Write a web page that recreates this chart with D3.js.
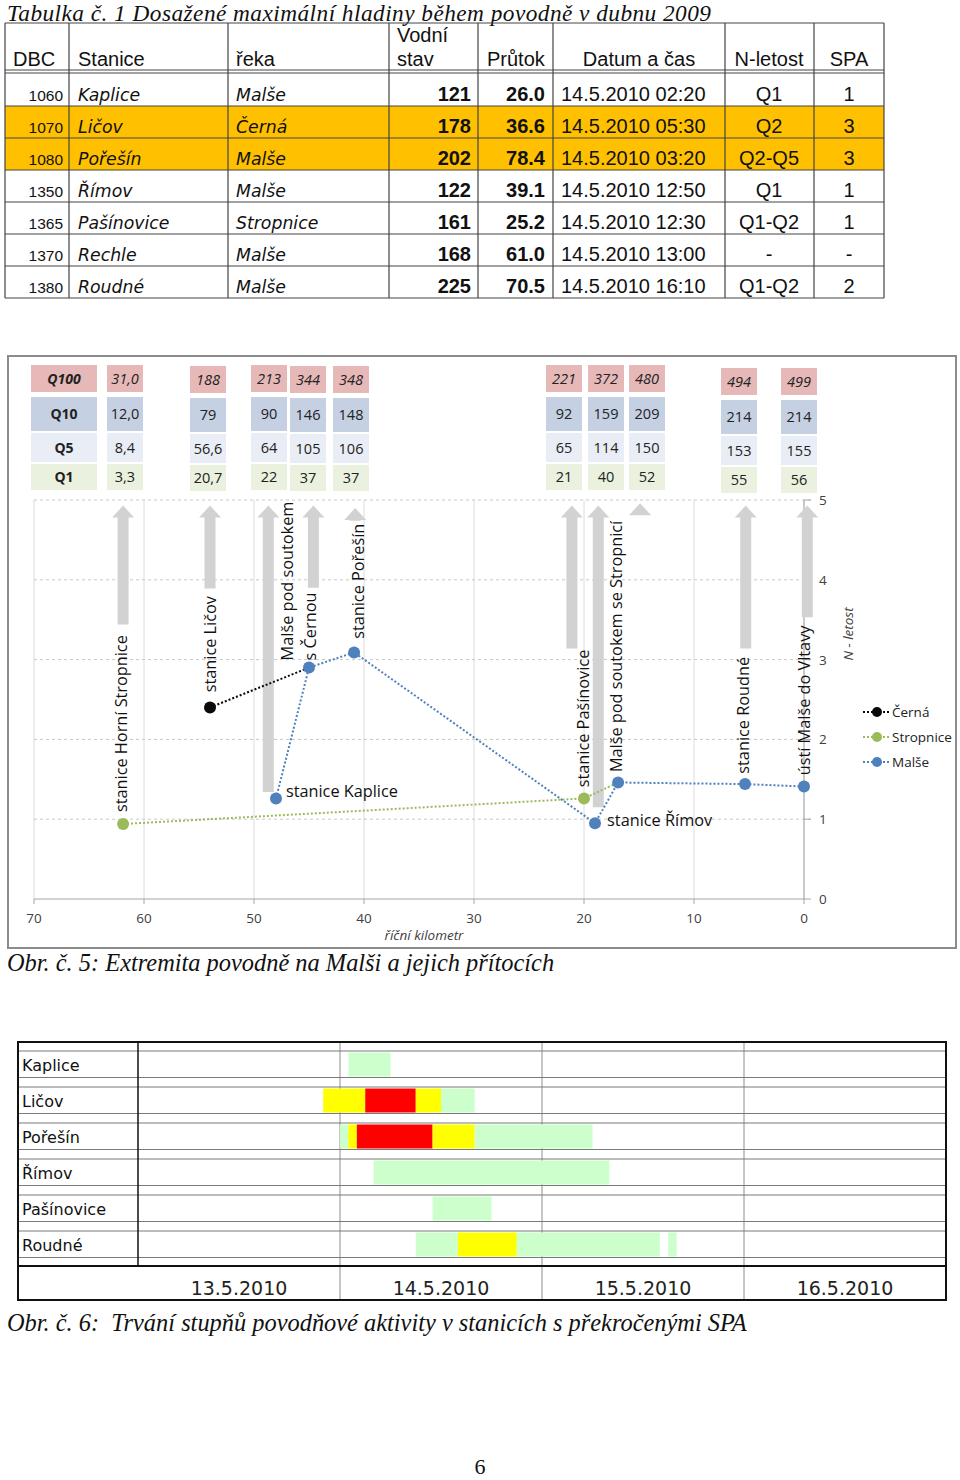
<!DOCTYPE html>
<html><head><meta charset="utf-8">
<script src="https://cdn.jsdelivr.net/npm/d3@7"></script>
<style>body{margin:0;background:#fff}</style>
</head><body>
<svg id="page" width="960" height="1480"></svg>
<script>
// ---------- DATA ----------
const tableTitle = "Tabulka č. 1 Dosažené maximální hladiny během povodně v dubnu 2009";
const dbc = [1060, 1070, 1080, 1350, 1365, 1370, 1380];
const stanice = ["Kaplice", "Ličov", "Pořešín", "Římov", "Pašínovice", "Rechle", "Roudné"];
const reka = ["Malše", "Černá", "Malše", "Malše", "Stropnice", "Malše", "Malše"];
const vodniStav = [121, 178, 202, 122, 161, 168, 225];
const prutok = [26.0, 36.6, 78.4, 39.1, 25.2, 61.0, 70.5];
const datum = ["14.5.2010 02:20", "14.5.2010 05:30", "14.5.2010 03:20", "14.5.2010 12:50", "14.5.2010 12:30", "14.5.2010 13:00", "14.5.2010 16:10"];
const nLetost = ["Q1", "Q2", "Q2-Q5", "Q1", "Q1-Q2", "-", "Q1-Q2"];
const spa = ["1", "3", "3", "1", "1", "-", "2"];

const qLabels = ["Q100", "Q10", "Q5", "Q1"];
const q100 = ["31,0", "188", "213", "344", "348", "221", "372", "480", "494", "499"];
const q10 = ["12,0", "79", "90", "146", "148", "92", "159", "209", "214", "214"];
const q5 = ["8,4", "56,6", "64", "105", "106", "65", "114", "150", "153", "155"];
const q1 = ["3,3", "20,7", "22", "37", "37", "21", "40", "52", "55", "56"];

// river km and N-letost range arrows (bottom / top of range)
const arrowKm = [61.9, 54.0, 48.7, 44.6, 40.8, 21.1, 18.7, 14.9, 5.3, -0.3];
const arrowLow = [3.44, 3.89, 1.34, 3.9, 4.74, 3.14, 1.15, 4.81, 3.14, 3.53];
const arrowHigh = [4.93, 4.93, 4.93, 4.93, 4.9, 4.93, 4.93, 4.96, 4.93, 4.93];

const malseKm = [48.0, 45.0, 40.9, 19.0, 16.9, 5.36, 0];
const malseN = [1.26, 2.9, 3.09, 0.95, 1.46, 1.44, 1.41];
const cernaKm = [54.0, 45.0];
const cernaN = [2.4, 2.9];
const stropniceKm = [61.9, 20.0, 16.9];
const stropniceN = [0.94, 1.26, 1.46];

const vLabelText = ["stanice Horní Stropnice", "stanice Ličov", "Malše pod soutokem", "s Černou", "stanice Pořešín", "stanice Pašínovice", "Malše pod soutokem se Stropnicí", "stanice Roudné", "ústí Malše do Vltavy"];
const vLabelKm = [62.0, 53.9, 46.9, 44.8, 40.5, 20.0, 17.0, 5.45, -0.09];
const vLabelN = [1.09, 2.59, 2.99, 2.99, 3.26, 1.40, 1.59, 1.57, 1.55];
const hLabelText = ["stanice Kaplice", "stanice Římov"];
const hLabelKm = [47.1, 17.9];
const hLabelN = [1.275, 0.91];

const kmTicks = [70, 60, 50, 40, 30, 20, 10, 0];
const nTicks = [0, 1, 2, 3, 4, 5];
const seriesNames = ["Černá", "Stropnice", "Malše"];
const seriesColors = ["#0a0a0a", "#9bbb59", "#4f81bd"];

const caption5 = "Obr. č. 5: Extremita povodně na Malši a jejich přítocích";

const ganttStations = ["Kaplice", "Ličov", "Pořešín", "Římov", "Pašínovice", "Roudné"];
const segStation = ["Kaplice", "Ličov", "Ličov", "Ličov", "Ličov", "Pořešín", "Pořešín", "Pořešín", "Pořešín", "Pořešín", "Římov", "Pašínovice", "Roudné", "Roudné", "Roudné", "Roudné"];
const segStart = ["2010-05-14T01:00", "2010-05-13T22:00", "2010-05-14T03:00", "2010-05-14T09:00", "2010-05-14T12:00", "2010-05-14T00:00", "2010-05-14T01:00", "2010-05-14T02:00", "2010-05-14T11:00", "2010-05-14T16:00", "2010-05-14T04:00", "2010-05-14T11:00", "2010-05-14T09:00", "2010-05-14T14:00", "2010-05-14T21:00", "2010-05-15T15:00"];
const segEnd = ["2010-05-14T06:00", "2010-05-14T03:00", "2010-05-14T09:00", "2010-05-14T12:00", "2010-05-14T16:00", "2010-05-14T01:00", "2010-05-14T02:00", "2010-05-14T11:00", "2010-05-14T16:00", "2010-05-15T06:00", "2010-05-15T08:00", "2010-05-14T18:00", "2010-05-14T14:00", "2010-05-14T21:00", "2010-05-15T14:00", "2010-05-15T16:00"];
const segLevel = [1, 2, 3, 2, 1, 1, 2, 3, 2, 1, 1, 1, 1, 2, 1, 1];
const ganttDays = ["13.5.2010", "14.5.2010", "15.5.2010", "16.5.2010"];
const caption6 = "Obr. č. 6:  Trvání stupňů povodňové aktivity v stanicích s překročenými SPA";
const pageNumber = "6";

// ---------- DRAW ----------
const svg = d3.select("#page");
svg.append("rect").attr("width", 960).attr("height", 1480).attr("fill", "#fff");
const SERIF = "Liberation Serif", SANS = "Liberation Sans", VERD = "DejaVu Sans", CAL = "Open Sans";
const CAP = 24.4;

// title
svg.append("text").attr("x", 7).attr("y", 21).attr("font-family", SERIF).attr("font-style", "italic")
  .attr("font-size", 23.3).attr("textLength", 704).attr("lengthAdjust", "spacing")
  .attr("fill", "#111").text(tableTitle);

// ---- table ----
const colX = [5, 69, 228, 389, 478, 553, 725, 814, 884];
const rows = d3.range(stanice.length);
const rowY = d3.scaleBand().domain(rows).range([74, 298]);
const tbl = svg.append("g");
tbl.selectAll("rect.hl").data(rows.filter(i => spa[i] === "3")).join("rect")
  .attr("x", colX[0]).attr("y", i => rowY(i)).attr("width", colX[8] - colX[0]).attr("height", rowY.bandwidth())
  .attr("fill", "#FFC000");
const hLines = [23, 70, 73].concat(rows.map(i => rowY(i) + rowY.bandwidth()));
tbl.selectAll("line.h").data(hLines).join("line")
  .attr("x1", colX[0]).attr("x2", colX[8]).attr("y1", d => d).attr("y2", d => d)
  .attr("stroke", "#444").attr("stroke-width", 1);
tbl.selectAll("line.v").data(colX).join("line")
  .attr("x1", d => d).attr("x2", d => d).attr("y1", 23).attr("y2", 298)
  .attr("stroke", "#444").attr("stroke-width", 1.2);
const hdr = [
  {t: "DBC", x: 13, a: "start"}, {t: "Stanice", x: 78, a: "start"}, {t: "řeka", x: 236, a: "start"},
  {t: "stav", x: 397, a: "start"}, {t: "Průtok", x: 487, a: "start"}, {t: "Datum a čas", x: 639, a: "middle"},
  {t: "N-letost", x: 769, a: "middle"}, {t: "SPA", x: 849, a: "middle"}];
tbl.selectAll("text.hd").data(hdr).join("text")
  .attr("x", d => d.x).attr("y", 66).attr("text-anchor", d => d.a)
  .attr("font-family", SANS).attr("font-size", 20).attr("fill", "#111").text(d => d.t);
tbl.append("text").attr("x", 397).attr("y", 42).attr("font-family", SANS).attr("font-size", 20).attr("fill", "#111").text("Vodní");
const rowG = tbl.selectAll("g.row").data(rows).join("g").attr("transform", i => `translate(0,${rowY(i) + 27})`);
rowG.append("text").attr("x", 63).attr("text-anchor", "end").attr("font-family", SANS).attr("font-size", 15.5).attr("fill", "#111").text(i => dbc[i]);
rowG.append("text").attr("x", 78).attr("font-family", VERD).attr("font-style", "italic").attr("font-size", 17.3).attr("fill", "#111").text(i => stanice[i]);
rowG.append("text").attr("x", 236).attr("font-family", VERD).attr("font-style", "italic").attr("font-size", 17.3).attr("fill", "#111").text(i => reka[i]);
rowG.append("text").attr("x", 471).attr("text-anchor", "end").attr("font-family", SANS).attr("font-weight", "bold").attr("font-size", 20).attr("fill", "#111").text(i => vodniStav[i]);
rowG.append("text").attr("x", 545).attr("text-anchor", "end").attr("font-family", SANS).attr("font-weight", "bold").attr("font-size", 20).attr("fill", "#111").text(i => prutok[i].toFixed(1));
rowG.append("text").attr("x", 561).attr("font-family", SANS).attr("font-size", 20).attr("fill", "#111").text(i => datum[i]);
rowG.append("text").attr("x", 769).attr("text-anchor", "middle").attr("font-family", SANS).attr("font-size", 20).attr("fill", "#111").text(i => nLetost[i]);
rowG.append("text").attr("x", 849).attr("text-anchor", "middle").attr("font-family", SANS).attr("font-size", 20).attr("fill", "#111").text(i => spa[i]);

// ---- chart Obr. 5 ----
const c5 = svg.append("g");
c5.append("rect").attr("x", 8).attr("y", 356).attr("width", 948).attr("height", 592)
  .attr("fill", "#fff").attr("stroke", "#8c8c8c").attr("stroke-width", 2);

const x = d3.scaleLinear().domain([70, 0]).range([34, 804]);
const y = d3.scaleLinear().domain([0, 5]).range([899, 500]);

const qRows = [q100, q10, q5, q1];
const qFill = ["#e6b9b8", "#c6d0e3", "#e9edf5", "#ebf1df"];
const qRowTop = [365, 397, 433, 464];
const qRowH = [27, 34, 29, 26];
const boxLeft = [107, 190, 251, 290, 333, 546, 588, 629, 721, 781];
const boxDy = [0, 1, 0, 1, 1, 0, 0, 0, 3, 3];
const qg = c5.append("g");
qLabels.forEach((lab, r) => {
  qg.append("rect").attr("x", 31).attr("y", qRowTop[r]).attr("width", 66).attr("height", qRowH[r]).attr("fill", qFill[r]);
  qg.append("text").attr("x", 64).attr("y", qRowTop[r] + qRowH[r] / 2 + 5).attr("text-anchor", "middle")
    .attr("font-family", CAL).attr("font-weight", "bold").attr("font-style", r === 0 ? "italic" : "normal")
    .attr("font-size", 14).attr("fill", "#222").text(lab);
  qg.selectAll(null).data(qRows[r]).join("rect")
    .attr("x", (d, i) => boxLeft[i]).attr("y", (d, i) => qRowTop[r] + boxDy[i]).attr("width", 36).attr("height", qRowH[r])
    .attr("fill", qFill[r]);
  qg.selectAll(null).data(qRows[r]).join("text")
    .attr("x", (d, i) => boxLeft[i] + 18).attr("y", (d, i) => qRowTop[r] + boxDy[i] + qRowH[r] / 2 + 5)
    .attr("text-anchor", "middle").attr("font-family", CAL).attr("font-size", 14.5)
    .attr("font-style", r === 0 ? "italic" : "normal").attr("fill", "#222").text(d => d);
});

c5.selectAll("line.vg").data(kmTicks.filter(k => k > 0)).join("line")
  .attr("x1", d => x(d)).attr("x2", d => x(d)).attr("y1", y(5)).attr("y2", y(0))
  .attr("stroke", "#dcdcdc").attr("stroke-width", 1);
c5.selectAll("line.hg").data(nTicks.filter(n => n > 0)).join("line")
  .attr("x1", x(70)).attr("x2", x(0) + 8).attr("y1", d => y(d)).attr("y2", d => y(d))
  .attr("stroke", "#c8c8c8").attr("stroke-width", 1).attr("stroke-dasharray", "3,3");
c5.append("line").attr("x1", x(70)).attr("x2", x(0)).attr("y1", y(0)).attr("y2", y(0)).attr("stroke", "#a6a6a6").attr("stroke-width", 1.2);
c5.append("line").attr("x1", x(0)).attr("x2", x(0)).attr("y1", y(5)).attr("y2", y(0)).attr("stroke", "#a6a6a6").attr("stroke-width", 1.2);
c5.selectAll("line.xt").data(kmTicks).join("line")
  .attr("x1", d => x(d)).attr("x2", d => x(d)).attr("y1", y(0)).attr("y2", y(0) + 5).attr("stroke", "#a6a6a6");
c5.selectAll("line.yt").data(nTicks).join("line")
  .attr("x1", x(0)).attr("x2", x(0) + 7).attr("y1", d => y(d)).attr("y2", d => y(d)).attr("stroke", "#a6a6a6");
c5.selectAll("text.xl").data(kmTicks).join("text")
  .attr("x", d => x(d)).attr("y", 923).attr("text-anchor", "middle")
  .attr("font-family", CAL).attr("font-size", 13.5).attr("fill", "#404040").text(d => d);
c5.selectAll("text.yl").data(nTicks).join("text")
  .attr("x", 819).attr("y", d => y(d) + 5)
  .attr("font-family", CAL).attr("font-size", 13.5).attr("fill", "#404040").text(d => d);
c5.append("text").attr("x", 424).attr("y", 940).attr("text-anchor", "middle")
  .attr("font-family", CAL).attr("font-style", "italic").attr("font-size", 13.5).attr("fill", "#404040").text("říční kilometr");
c5.append("text").attr("transform", "translate(853,634) rotate(-90)").attr("text-anchor", "middle")
  .attr("font-family", CAL).attr("font-style", "italic").attr("font-size", 13.5).attr("fill", "#404040").text("N - letost");

c5.selectAll("path.arrow").data(arrowKm).join("path")
  .attr("d", (k, i) => {
    const cx = x(k), yt = y(arrowHigh[i]), yb = y(arrowLow[i]);
    const hh = Math.min(12, yb - yt), hw = 11, sw = 5.5;
    return `M${cx},${yt}L${cx + hw},${yt + hh}L${cx + sw},${yt + hh}L${cx + sw},${yb}L${cx - sw},${yb}L${cx - sw},${yt + hh}L${cx - hw},${yt + hh}Z`;
  })
  .attr("fill", "#d2d2d2");

const line = d3.line().x(d => x(d[0])).y(d => y(d[1]));
const series = [
  {km: cernaKm, n: cernaN, c: seriesColors[0]},
  {km: stropniceKm, n: stropniceN, c: seriesColors[1]},
  {km: malseKm, n: malseN, c: seriesColors[2]}];
series.forEach(s => {
  const pts = s.km.map((k, i) => [k, s.n[i]]);
  c5.append("path").attr("d", line(pts)).attr("fill", "none").attr("stroke", s.c)
    .attr("stroke-width", 2).attr("stroke-dasharray", "2,2");
});
const pointSets = [
  {km: cernaKm.slice(0, 1), n: cernaN.slice(0, 1), c: seriesColors[0]},
  {km: stropniceKm.slice(0, 2), n: stropniceN.slice(0, 2), c: seriesColors[1]},
  {km: malseKm, n: malseN, c: seriesColors[2]}];
pointSets.forEach(s => {
  c5.selectAll(null).data(s.km).join("circle")
    .attr("cx", d => x(d)).attr("cy", (d, i) => y(s.n[i])).attr("r", 6).attr("fill", s.c);
});

c5.selectAll("text.vlab").data(vLabelText).join("text")
  .attr("transform", (d, i) => `translate(${x(vLabelKm[i]) + 5},${y(vLabelN[i])}) rotate(-90)`)
  .attr("font-family", CAL).attr("font-size", 16.3).attr("fill", "#111").text(d => d);
c5.selectAll("text.hlab").data(hLabelText).join("text")
  .attr("x", (d, i) => x(hLabelKm[i])).attr("y", (d, i) => y(hLabelN[i]))
  .attr("font-family", CAL).attr("font-size", 16.3).attr("fill", "#111").text(d => d);

const lg = c5.selectAll("g.leg").data(seriesNames).join("g")
  .attr("transform", (d, i) => `translate(0,${712 + i * 25})`);
lg.append("line").attr("x1", 863).attr("x2", 890).attr("stroke", (d, i) => seriesColors[i])
  .attr("stroke-width", 2).attr("stroke-dasharray", "2,2");
lg.append("circle").attr("cx", 877).attr("r", 5).attr("fill", (d, i) => seriesColors[i]);
lg.append("text").attr("x", 892).attr("y", 5).attr("font-family", CAL).attr("font-size", 13.5).attr("fill", "#222").text(d => d);

svg.append("text").attr("x", 7).attr("y", 971).attr("font-family", SERIF).attr("font-style", "italic")
  .attr("font-size", CAP).attr("fill", "#111").text(caption5);

// ---- gantt Obr. 6 ----
const g6 = svg.append("g");
const parse = d3.timeParse("%Y-%m-%dT%H:%M");
const t = d3.scaleTime().domain([new Date(2010, 4, 13), new Date(2010, 4, 17)]).range([138, 946]);
const band = d3.scaleBand().domain(ganttStations).range([1046, 1262]);
const levelColor = d3.scaleOrdinal().domain([1, 2, 3]).range(["#ccffcc", "#ffff00", "#ff0000"]);
const dayStarts = ganttDays.map((d, i) => d3.timeDay.offset(new Date(2010, 4, 13), i));

g6.append("rect").attr("x", 18).attr("y", 1042).attr("width", 928).attr("height", 258).attr("fill", "#fff");
g6.selectAll("line.day").data(dayStarts.slice(1)).join("line")
  .attr("x1", d => t(d)).attr("x2", d => t(d)).attr("y1", 1042).attr("y2", 1300)
  .attr("stroke", "#8c8c8c").attr("stroke-width", 1);
ganttStations.forEach(s => {
  [band(s) + 5, band(s) + 31.5].forEach(yy => {
    g6.append("line").attr("x1", 18).attr("x2", 946).attr("y1", yy).attr("y2", yy)
      .attr("stroke", "#7a7a7a").attr("stroke-width", 1.2);
  });
});
g6.selectAll("rect.seg").data(segStation).join("rect")
  .attr("x", (d, i) => t(parse(segStart[i])))
  .attr("width", (d, i) => t(parse(segEnd[i])) - t(parse(segStart[i])))
  .attr("y", d => band(d) + 6.5).attr("height", 24)
  .attr("fill", (d, i) => levelColor(segLevel[i]));
g6.append("line").attr("x1", 138).attr("x2", 138).attr("y1", 1042).attr("y2", 1266).attr("stroke", "#111").attr("stroke-width", 1.5);
g6.append("line").attr("x1", 18).attr("x2", 946).attr("y1", 1266).attr("y2", 1266).attr("stroke", "#111").attr("stroke-width", 2);
g6.append("rect").attr("x", 18).attr("y", 1042).attr("width", 928).attr("height", 258)
  .attr("fill", "none").attr("stroke", "#111").attr("stroke-width", 2);
g6.selectAll("text.st").data(ganttStations).join("text")
  .attr("x", 22).attr("y", d => band(d) + 24.5)
  .attr("font-family", VERD).attr("font-size", 16).attr("fill", "#111").text(d => d);
g6.selectAll("text.day").data(ganttDays).join("text")
  .attr("x", (d, i) => t(d3.timeHour.offset(dayStarts[i], 12))).attr("y", 1295).attr("text-anchor", "middle")
  .attr("font-family", VERD).attr("font-size", 19).attr("fill", "#222").text(d => d);

svg.append("text").attr("x", 7).attr("y", 1331).attr("font-family", SERIF).attr("font-style", "italic")
  .attr("font-size", CAP).attr("fill", "#111").attr("xml:space", "preserve").style("white-space", "pre").text(caption6);
svg.append("text").attr("x", 480).attr("y", 1474).attr("text-anchor", "middle").attr("font-family", SERIF)
  .attr("font-size", 22).attr("fill", "#111").text(pageNumber);
</script>
</body></html>
